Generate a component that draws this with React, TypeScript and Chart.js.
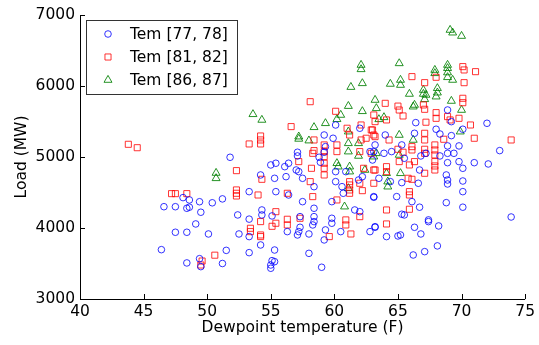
import { useEffect, useRef } from 'react';
import { Chart, registerables } from 'chart.js';

Chart.register(...registerables);

const xTicks = [40, 45, 50, 55, 60, 65, 70, 75];
const yTicks = [3000, 4000, 5000, 6000, 7000];
const seriesLabels = ['Tem [77, 78]', 'Tem [81, 82]', 'Tem [86, 87]'];
const xTitle = 'Dewpoint temperature (F)';
const yTitle = 'Load (MW)';

// [dewpoint, load]
const tem7778: number[][] = [
  [48.1,4428],[48.6,4395],[49.4,4370],[50.4,4355],[51.2,4410],[51.8,4996],
  [46.6,4300],[47.5,4300],[48.4,4278],[48.6,4293],[49.5,4222],[49.1,4057],[47.5,3940],[48.4,3940],[50.1,3916],[46.4,3695],[48.4,3508],[49.4,3568],[49.5,3456],[51.2,3500],[51.5,3685],
  [59.2,5310],[59.9,5264],[63.2,5170],[59.3,5146],[59.2,5067],[63.1,5076],
  [57.1,5067],[57.1,5015],[56.4,4912],[55.4,4912],[55.0,4888],[56.1,4864],[58.8,4996],[58.9,4926],[60.1,4794],[60.1,4653],[60.9,4794],[62.2,4723],[63.0,4958],
  [54.2,4747],[55.3,4700],[56.2,4723],[57.0,4817],[57.2,4794],[57.5,4700],[58.4,4582],[60.6,4582],[61.9,4676],
  [53.3,4512],[55.4,4512],[56.4,4465],[57.5,4371],[59.8,4371],[60.7,4489],[63.1,4442],[61.6,4254],[62.0,4230],
  [52.4,4184],[53.3,4125],[54.3,4254],[57.3,4160],[58.4,4278],[59.8,4137],
  [54.3,4184],[53.3,3879],[52.5,3916],[54.2,3761],[55.1,4170],[56.3,3949],[57.2,3949],[57.1,3902],[57.3,4010],[58.0,3916],[58.4,4090],[58.4,4160],[58.3,4043],[59.3,3973],[59.2,3832],[59.8,4067],[60.5,3949],[62.8,3949],[63.2,4019],
  [53.3,3653],[55.3,3690],[55.1,3540],[55.3,3526],[55.0,3433],[55.0,3479],[58.0,3643],[59.0,3447],
  [60.1,5451],[62.0,5405],
  [68.9,5662],[69.2,5498],[66.4,5484],[72.0,5475],
  [70.1,5391],[69.2,5301],[68.3,5324],[68.0,5391],[68.9,5156],[69.8,5156],[69.4,5052],[68.9,5052],[68.3,5015],[68.9,4920],[69.8,4935],[71.0,4920],[72.1,4902],[70.1,4841],[68.8,4747],[68.9,4676],[68.9,4620],[70.1,4662],[70.1,4512],[68.8,4357],[70.1,4293],[73.9,4155],[73.0,5090],[64.0,5310],[62.8,5076],[65.3,4639],[64.9,4442],[66.1,4371],[63.1,4433],[66.7,4293],[65.3,4194],[67.4,4114],
  [65.5,4184],[63.2,4010],[64.1,3879],[65.0,3888],[65.2,3902],[66.3,4010],[66.8,3916],[67.4,4090],[68.2,4029],[68.1,3748],[67.1,3667],[66.2,3620],
  [63.9,5052],[64.5,5076],[65.5,4982],[66.8,5015],[67.2,5052],[66.7,4817],[63.5,4700],[64.4,4653],[66.6,4630],[66.3,5334],[65.3,5170],
];

const tem8182: number[][] = [
  [43.8,5179],[44.5,5131],[47.2,4484],[47.5,4484],[48.4,4484],
  [49.6,3535],[49.5,3479],[50.6,3617],
  [53.3,5184],[54.2,5296],[54.2,5240],[54.2,5184],[56.6,5428],[58.4,5240],[61.0,5405],[61.2,5310],[62.1,5451],[62.9,5381],[63.2,5498],[62.5,5264],[62.1,5240],[63.1,5310],
  [58.4,5090],[58.3,5052],[59.2,5170],[59.2,5076],[59.2,5005],[60.2,5170],[60.2,5076],[62.0,5076],[62.9,5052],
  [57.2,4935],[58.2,4841],[59.2,4912],[59.2,4841],[59.2,4747],[62.3,4841],[63.1,4817],
  [52.3,4808],[54.3,4686],[58.1,4653],[61.2,4653],[61.2,4606],[61.2,4536],[62.0,4630],[62.2,4526],[63.1,4630],
  [52.3,4536],[52.3,4489],[52.3,4451],[54.0,4465],[56.3,4489],[58.3,4442],[60.2,4395],[61.2,4489],
  [55.4,4230],
  [53.4,3996],[53.4,3949],[54.2,4090],[54.2,3902],[54.2,3879],[55.1,4024],[55.4,4067],[56.3,4123],[56.3,4043],[57.3,4137],[59.6,3879],[60.9,4114],[60.9,4043],[61.3,3916],[62.0,4160],
  [58.1,5779],[60.1,5644],[63.1,5592],
  [70.1,6273],[70.2,6226],[71.1,6202],[66.1,6132],[67.1,6047],[68.0,6123],[70.2,6047],[70.1,5827],[70.1,5765],[64.0,5756],[65.0,5717],[65.1,5662],[65.4,5578],[67.0,5733],[67.1,5672],[68.0,5625],[68.0,5545],[68.9,5569],[69.1,5522],[69.8,5545],[67.2,5490],[70.7,5451],[64.1,5522],
  [71.0,5264],[73.9,5240],[68.6,5250],[67.9,5170],[67.9,5099],[67.9,5029],[67.9,4935],[67.9,4874],[67.9,4817],[67.1,5109],[67.1,5052],[67.1,5334],[67.1,5240],[67.1,4771],[66.1,5146],[66.1,5099],[65.4,5067],[65.9,4888],[66.1,4686],[66.3,4935],[65.1,4935],[65.0,5109],[64.3,5240],[63.2,5287],[63.0,5381],[63.2,4817],[64.1,4864],[64.1,4794],[65.8,4700],[65.9,4512],[65.9,4465],[64.1,4254],[65.9,4264],
  [64.1,4057],
];

const tem8687: number[][] = [
  [50.7,4775],[50.7,4700],
  [54.3,5522],[57.2,5287],[57.2,5255],[58.4,5419],[58.0,5231],[59.3,5475],
  [61.1,5357],[61.9,5193],[61.1,5076],[61.1,5193],[61.9,5015],[63.1,5005],[60.2,4912],[60.3,4864],[61.2,4864],[61.2,4794],[62.4,4817],[61.1,4559],[60.8,4301],
  [53.6,5602],[60.5,5592],[60.2,5532],[61.1,5717],[62.2,5644],[61.3,5985],[62.2,6038],[62.1,6296],[62.1,6235],[63.2,5803],
  [69.1,6789],[69.3,6751],[70.0,6704],[65.1,6319],[67.9,6225],[67.9,6179],[68.9,6296],[68.9,6250],[68.9,6190],[68.9,6123],[69.3,6085],[64.4,6029],[65.2,6085],[65.2,6014],[65.9,5888],[67.0,5944],[67.0,5888],[68.1,5968],[68.1,5906],[68.0,5850],[67.2,5874],[67.1,5813],[66.3,5733],[66.2,5709],[69.2,5789],[63.3,5686],[70.0,5662],[63.9,5559],[63.5,5531],
  [69.9,5357],[66.2,5240],[65.1,5310],[65.1,5029],[63.3,5052],[64.1,4771],[64.2,4653],[64.2,4582],[65.2,4771],
];

const seriesData = [tem7778, tem8182, tem8687];
const seriesColors = ['rgba(0,0,255,0.8)', 'rgba(255,0,0,0.8)', 'rgba(0,128,0,0.85)'];
const seriesStyles = ['circle', 'rect', 'triangle'];
const seriesRadius = [3.3, 4.3, 4.6];

const FONT = "'DejaVu Sans', sans-serif";

function drawMarker(ctx: CanvasRenderingContext2D, style: string, x: number, y: number, r: number) {
  ctx.beginPath();
  if (style === 'circle') {
    ctx.arc(x, y, r, 0, Math.PI * 2);
  } else if (style === 'rect') {
    const s = Math.SQRT1_2 * r;
    ctx.rect(x - s, y - s, 2 * s, 2 * s);
  } else {
    for (let i = 0; i < 3; i++) {
      const a = (i * 2 * Math.PI) / 3;
      const px = x + Math.sin(a) * r;
      const py = y - Math.cos(a) * r;
      if (i === 0) ctx.moveTo(px, py); else ctx.lineTo(px, py);
    }
    ctx.closePath();
  }
  ctx.stroke();
}

const axesPlugin = {
  id: 'matlabAxes',
  afterDraw(chart: any) {
    const { ctx, chartArea: a, scales } = chart;
    ctx.save();
    ctx.strokeStyle = '#000';
    ctx.lineWidth = 1;
    ctx.beginPath();
    ctx.moveTo(a.left + 0.5, a.top);
    ctx.lineTo(a.left + 0.5, a.bottom + 0.5);
    ctx.lineTo(a.right, a.bottom + 0.5);
    xTicks.forEach((v) => {
      const x = Math.round(scales.x.getPixelForValue(v)) + 0.5;
      ctx.moveTo(x, a.bottom);
      ctx.lineTo(x, a.bottom - 5);
    });
    yTicks.forEach((v) => {
      const y = Math.round(scales.y.getPixelForValue(v)) + 0.5;
      ctx.moveTo(a.left, y);
      ctx.lineTo(a.left + 5, y);
    });
    ctx.stroke();

    // legend box
    const lx = 86.5, ly = 20.5, lw = 151, lh = 74;
    ctx.fillStyle = '#fff';
    ctx.fillRect(lx, ly, lw, lh);
    ctx.strokeStyle = '#333';
    ctx.strokeRect(lx, ly, lw, lh);
    ctx.font = `15.5px ${FONT}`;
    ctx.textBaseline = 'middle';
    ctx.textAlign = 'left';
    seriesLabels.forEach((label, i) => {
      const cy = 34 + i * 23;
      ctx.strokeStyle = seriesColors[i];
      ctx.lineWidth = 1;
      drawMarker(ctx, seriesStyles[i], 108, cy, seriesRadius[i]);
      ctx.fillStyle = '#000';
      ctx.fillText(label, 130, cy + 0.5);
    });
    ctx.restore();
  },
};

export default function App() {
  const ref = useRef<HTMLCanvasElement | null>(null);
  useEffect(() => {
    if (!ref.current) return;
    const chart = new Chart(ref.current, {
      type: 'scatter',
      data: {
        datasets: seriesData.map((pts, i) => ({
          label: seriesLabels[i],
          data: pts.map((p) => ({ x: p[0], y: p[1] })),
          pointStyle: seriesStyles[i] as any,
          pointRadius: seriesRadius[i],
          pointBorderWidth: 1,
          borderColor: seriesColors[i],
          backgroundColor: 'rgba(0,0,0,0)',
          pointBackgroundColor: 'rgba(0,0,0,0)',
          pointBorderColor: seriesColors[i],
        })),
      },
      plugins: [axesPlugin],
      options: {
        animation: false,
        responsive: false,
        devicePixelRatio: 1,
        layout: { padding: { top: 15, right: 11, left: 0, bottom: 0 } },
        plugins: { legend: { display: false }, tooltip: { enabled: false } },
        scales: {
          x: {
            type: 'linear',
            min: 40,
            max: 75,
            afterFit: (s: any) => { s.height = 46; },
            ticks: { stepSize: 5, color: '#000', font: { family: FONT, size: 15.5 }, padding: 4, maxRotation: 0, callback: (v: any) => String(v) },
            grid: { display: false, drawTicks: false },
            border: { display: false },
            title: { display: true, text: xTitle, color: '#000', font: { family: FONT, size: 15.5 }, padding: { top: 0, bottom: 8 } },
          },
          y: {
            type: 'linear',
            min: 3000,
            max: 7000,
            afterFit: (s: any) => { s.width = 80; },
            ticks: { stepSize: 1000, color: '#000', font: { family: FONT, size: 15.5 }, padding: 5, callback: (v: any) => String(v) },
            grid: { display: false, drawTicks: false },
            border: { display: false },
            title: { display: true, text: yTitle, color: '#000', font: { family: FONT, size: 15.5 }, padding: { top: 13, bottom: 0 } },
          },
        },
      } as any,
    });
    return () => chart.destroy();
  }, []);
  return (
    <div style={{ position: 'absolute', left: 0, top: 0, width: 539, height: 345, background: '#fff' }}>
      <canvas ref={ref} width={539} height={345} style={{ display: 'block' }} />
    </div>
  );
}
